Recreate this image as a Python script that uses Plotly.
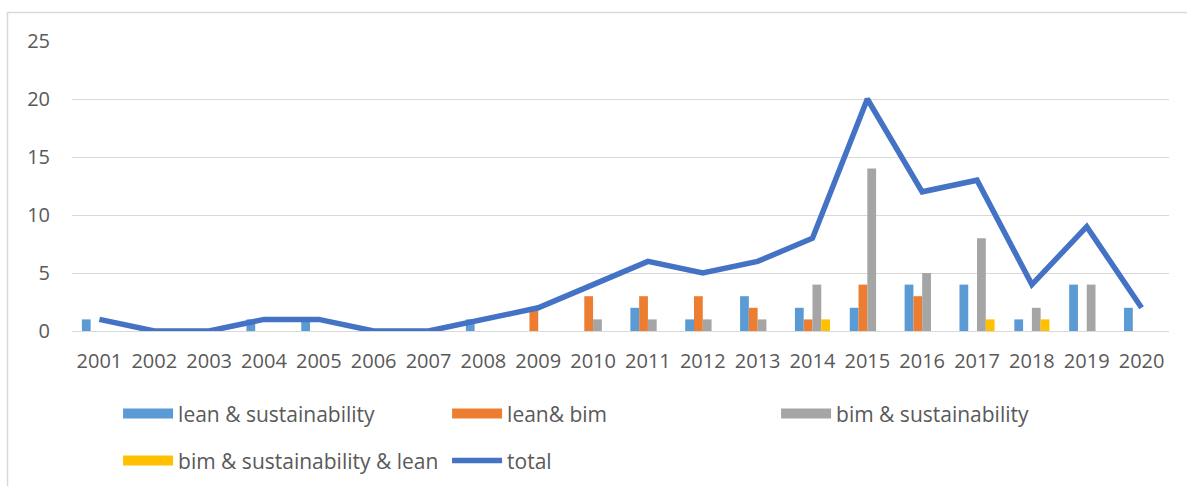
import plotly.graph_objects as go

years = [str(y) for y in range(2001, 2021)]
lean_sus = [1, 0, 0, 1, 1, 0, 0, 1, 0, 0, 2, 1, 3, 2, 2, 4, 4, 1, 4, 2]
lean_bim = [0, 0, 0, 0, 0, 0, 0, 0, 2, 3, 3, 3, 2, 1, 4, 3, 0, 0, 0, 0]
bim_sus = [0, 0, 0, 0, 0, 0, 0, 0, 0, 1, 1, 1, 1, 4, 14, 5, 8, 2, 4, 0]
bim_sus_lean = [0, 0, 0, 0, 0, 0, 0, 0, 0, 0, 0, 0, 0, 1, 0, 0, 1, 1, 0, 0]
total = [1, 0, 0, 1, 1, 0, 0, 1, 2, 4, 6, 5, 6, 8, 20, 12, 13, 4, 9, 2]
y_ticks = [0, 5, 10, 15, 20, 25]

series = [
    ("lean & sustainability", lean_sus, "#5B9BD5", "legend"),
    ("lean& bim", lean_bim, "#ED7D31", "legend"),
    ("bim & sustainability", bim_sus, "#A5A5A5", "legend"),
    ("bim & sustainability & lean", bim_sus_lean, "#FFC000", "legend2"),
]

FONT = "Open Sans"
TXT = "#595959"

fig = go.Figure()
for name, vals, color, leg in series:
    fig.add_trace(go.Bar(x=years, y=vals, name=name, legendgroup=name,
                         marker=dict(color=color, line=dict(width=0)),
                         showlegend=False, legend=leg))
    # wide rectangular legend swatch (Excel style)
    fig.add_trace(go.Scatter(x=[None], y=[None], name=name, legendgroup=name,
                             mode="lines", line=dict(color=color, width=13),
                             hoverinfo="skip", legend=leg))
fig.add_trace(go.Scatter(x=years, y=total, name="total", mode="lines",
                         line=dict(color="#4472C4", width=5.5), legend="legend2"))

legend_common = dict(orientation="h", xanchor="left", yanchor="middle",
                     font=dict(family=FONT, size=21, color=TXT),
                     entrywidth=264, itemwidth=50, bgcolor="rgba(0,0,0,0)",
                     traceorder="normal")

fig.update_layout(
    width=1187, height=486,
    margin=dict(l=72, r=18, t=41, b=155, autoexpand=False),
    paper_bgcolor="white", plot_bgcolor="white",
    barmode="group", bargap=0.36, bargroupgap=0,
    font=dict(family=FONT, color=TXT),
    legend=dict(x=0.042, y=-0.286, **legend_common),
    legend2=dict(x=0.042, y=-0.448, **legend_common),
    xaxis=dict(type="category", showgrid=False, showline=False, zeroline=False,
               ticks="", tickfont=dict(family=FONT, size=20, color=TXT),
               ticklabelstandoff=16, fixedrange=True),
    yaxis=dict(range=[0, 25], tickvals=y_ticks, showgrid=True, gridcolor="#D9D9D9",
               gridwidth=1.3, zeroline=True, zerolinecolor="#D9D9D9", zerolinewidth=1.3,
               showline=False, ticks="", tickfont=dict(family=FONT, size=20, color=TXT),
               ticklabelstandoff=21, fixedrange=True),
    shapes=[dict(type="path", xref="paper", yref="paper",
                 path="M -0.0588,-0.6 L -0.0588,1.098 L 1.2,1.098",
                 line=dict(color="#D9D9D9", width=1.5))],
)

fig.write_html("out.html")
